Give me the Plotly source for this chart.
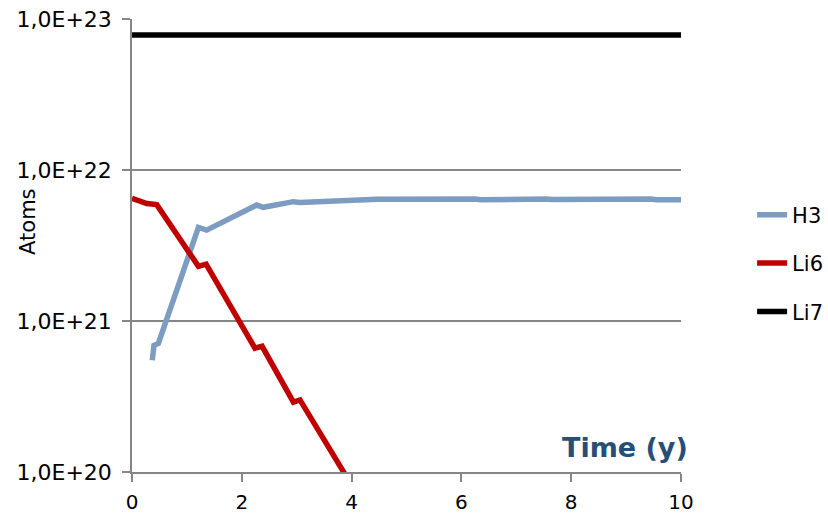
import plotly.graph_objects as go

# Data (log-scale y)
h3_x = [0.37, 0.40, 0.48, 1.21, 1.36, 2.27, 2.39, 2.94, 3.06, 4.46, 6.25, 6.35, 7.55, 7.65, 9.45, 9.55, 10.0]
h3_y = [5.5e20, 6.9e20, 7.1e20, 4.17e21, 4.0e21, 5.86e21, 5.66e21, 6.17e21, 6.1e21,
        6.4e21, 6.43e21, 6.35e21, 6.43e21, 6.38e21, 6.43e21, 6.35e21, 6.35e21]

li6_x = [0.0, 0.27, 0.45, 1.21, 1.35, 2.24, 2.37, 2.94, 3.06, 3.88, 4.2]
li6_y = [6.5e21, 6.0e21, 5.9e21, 2.3e21, 2.38e21, 6.6e20, 6.8e20, 2.9e20, 3.0e20, 9.8e19, 6.2e19]

li7_x = [0.0, 10.0]
li7_y = [7.83e22, 7.83e22]

y_tickvals = [1e20, 1e21, 1e22, 1e23]
y_ticktext = ["1,0E+20", "1,0E+21", "1,0E+22", "1,0E+23"]
x_tickvals = [0, 2, 4, 6, 8, 10]

FONT = "DejaVu Sans"
GRAY = "#868686"

fig = go.Figure()
fig.add_trace(go.Scatter(x=h3_x, y=h3_y, mode="lines", name="H3", legendgroup="a",
                         line=dict(color="#7C9CC2", width=5.5)))
fig.add_trace(go.Scatter(x=li6_x, y=li6_y, mode="lines", name="Li6", legendgroup="b",
                         line=dict(color="#C00000", width=5.5)))
fig.add_trace(go.Scatter(x=li7_x, y=li7_y, mode="lines", name="Li7", legendgroup="c",
                         line=dict(color="#000000", width=5.5)))

fig.update_layout(
    width=828, height=516,
    margin=dict(l=132, r=147, t=19, b=44, autoexpand=False),
    paper_bgcolor="white", plot_bgcolor="white",
    font=dict(family=FONT, size=22, color="black"),
    showlegend=True,
    legend=dict(x=1.1295, xanchor="left", y=0.461, yanchor="middle",
                font=dict(size=21), tracegroupgap=18,
                bgcolor="rgba(0,0,0,0)"),
)
fig.update_xaxes(range=[0, 10], tickvals=x_tickvals, showgrid=False, automargin=False,
                 showline=True, linecolor=GRAY, linewidth=1.5,
                 ticks="outside", ticklen=8, tickcolor=GRAY, tickwidth=1.5,
                 tickfont=dict(size=20),
                 ticklabelstandoff=3, zeroline=False)
fig.update_yaxes(type="log", range=[20, 23], tickvals=y_tickvals, ticktext=y_ticktext,
                 automargin=False,
                 showgrid=True, gridcolor=GRAY, gridwidth=1.5,
                 showline=True, linecolor=GRAY, linewidth=1.5,
                 ticks="outside", ticklen=8, tickcolor=GRAY, tickwidth=1.5,
                 ticklabelstandoff=6, zeroline=False)

fig.add_annotation(text="Atoms", xref="paper", yref="paper", x=0, y=0.552,
                   xshift=-104, xanchor="center", yanchor="middle", textangle=-90,
                   showarrow=False, font=dict(family=FONT, size=21, color="black"))
fig.add_annotation(text="<b>Time (y)</b>", xref="paper", yref="paper", x=0.898, y=0.053,
                   xanchor="center", yanchor="middle", showarrow=False,
                   font=dict(family=FONT, size=27, color="#264F78"))

fig.write_html("out.html", config={"displayModeBar": False},
               post_script="document.body.style.margin='0';")
